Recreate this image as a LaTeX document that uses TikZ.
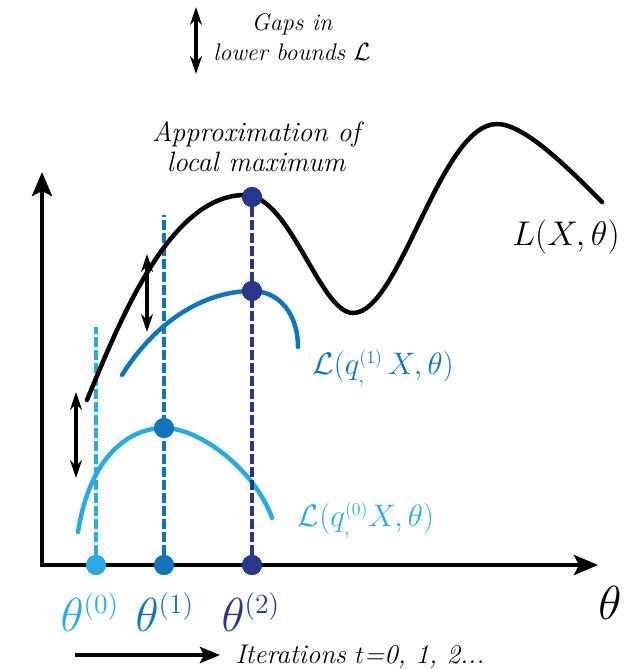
\documentclass[tikz,border=0pt]{standalone}
\usepackage{amsmath}
\usetikzlibrary{arrows.meta}
\definecolor{iterA}{RGB}{41,171,226}
\definecolor{iterB}{RGB}{16,117,188}
\definecolor{iterC}{RGB}{40,54,140}

\begin{document}
\begin{tikzpicture}[x=1pt,y=-1pt,
	axis/.style={line width=4.5pt,{Stealth[length=24pt,width=20pt,inset=5pt]}-{Stealth[length=24pt,width=20pt,inset=5pt]}},
	curve/.style={line width=4.5pt,line cap=round},
	guide/.style={line width=4pt,dash pattern=on 10pt off 3pt},
	gap/.style={line width=3.5pt,{Stealth[length=18pt,width=12pt]}-{Stealth[length=18pt,width=12pt]}},
	dot/.style={circle,fill,inner sep=0pt,minimum size=20pt},
	txt/.style={font=\fontsize{25}{30}\selectfont\itshape,align=center},
	mlbl/.style={font=\huge,scale=1.5},
	tlbl/.style={font=\huge,scale=2.3}]
	\useasboundingbox (0,0) rectangle (625,669);
	\draw[axis] (42,172) -- (42,565) -- (598,565);
	\draw[curve,iterA] (78,532) .. controls (90,455) and (130,428) .. (164,428) .. controls (200,428) and (255,470) .. (272,518);
	\draw[curve,iterB] (122,375) .. controls (160,315) and (210,291) .. (252,291) .. controls (280,291) and (298,315) .. (298,347);
	\foreach \n/\x/\c in {0/96/iterA,1/164/iterB,2/252/iterC} \node[dot,\c] (ax\n) at (\x,565) {};
	\node[dot,iterB] (peak1) at (164,428) {};
	\node[dot,iterC] (peak2) at (252,291) {};
	\node[dot,iterC] (peak3) at (252,197) {};
	\coordinate (top0) at (96,327);
	\coordinate (top1) at (164,215);
	\draw[guide,iterA] (ax0) -- (top0);
	\draw[guide,iterB] (ax1) -- (top1);
	\draw[guide,iterC] (ax2) -- (peak3);
	\draw[curve] (87,400) .. controls (120,320) and (170,195) .. (245,195) .. controls (290,195) and (320,313) .. (353,313) .. controls (400,313) and (440,124) .. (497,124) .. controls (525,124) and (570,170) .. (602,202);
	\foreach \n/\x/\c in {0/96/iterA,1/164/iterB,2/252/iterC} \node[dot,\c] at (ax\n) {};
	\node[dot,iterB] at (peak1) {};
	\node[dot,iterC] at (peak2) {};
	\node[dot,iterC] at (peak3) {};
	\coordinate (gapA1) at (147,254); \coordinate (gapA2) at (147,332);
	\coordinate (gapB1) at (76,392); \coordinate (gapB2) at (76,478);
	\coordinate (gapC1) at (196,7); \coordinate (gapC2) at (196,74);
	\draw[gap] (gapA1) -- (gapA2);
	\draw[gap] (gapB1) -- (gapB2);
	\draw[gap] (gapC1) -- (gapC2);
	\node[txt,font=\fontsize{24}{30}\selectfont\itshape] (gaps) at (292,37) {Gaps in\\lower bounds $\mathcal{L}$};
	\node[txt,font=\fontsize{28}{30}\selectfont\itshape] (approx) at (256,147) {Approximation of\\local maximum};
	\node[mlbl,scale=1.1] (lx) at (566,237) {$L(X,\theta)$};
	\node[mlbl,iterB] (lq1) at (383,368) {$\mathcal{L}(q^{\scriptscriptstyle(1)}_{,}\,X,\theta)$};
	\node[mlbl,iterA] (lq0) at (366,520) {$\mathcal{L}(q^{\scriptscriptstyle(0)}_{,}X,\theta)$};
	\foreach \n/\x/\c in {0/90/iterA,1/165/iterB,2/251/iterC} \node[tlbl,\c] (th\n) at (\x,612) {$\theta^{\scriptscriptstyle(\n)}$};
	\node[tlbl] (thaxis) at (610,603) {$\theta$};
	\node[txt,font=\fontsize{27}{30}\selectfont\itshape,anchor=west] (iter) at (232,657) {Iterations $t$=0, 1, 2...};
	\coordinate (istart) at (75,655);
	\draw[line width=4.5pt,-{Stealth[length=20pt,width=16pt,inset=4pt]},shorten >=12pt] (istart) -- (iter.west |- istart);
\end{tikzpicture}
\end{document}
